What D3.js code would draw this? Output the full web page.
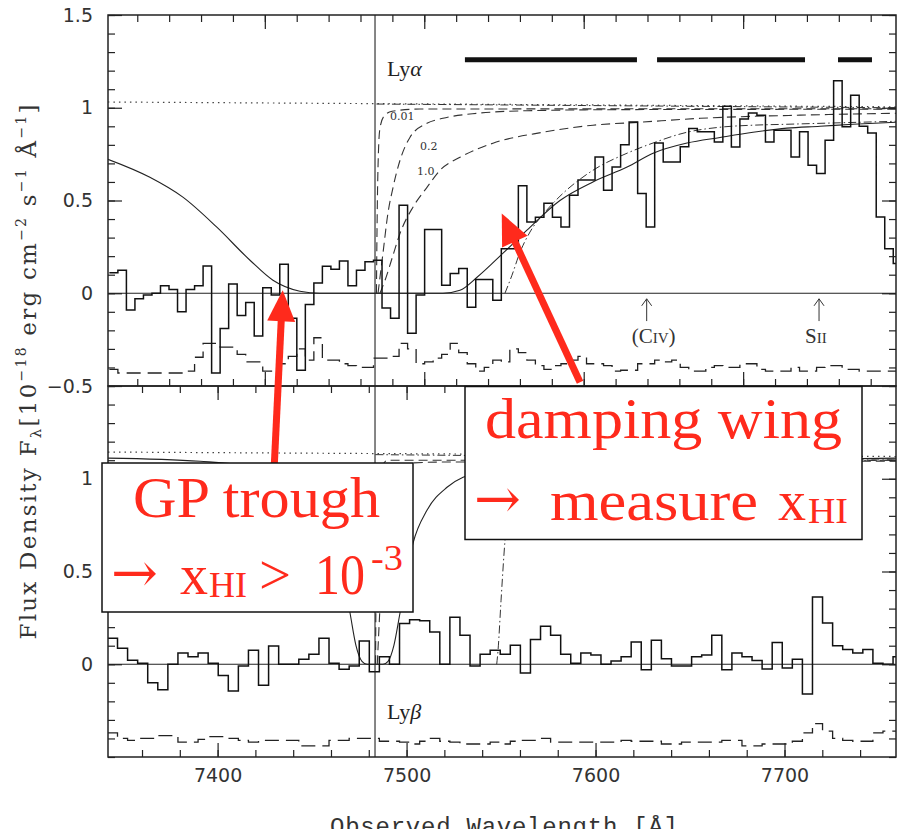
<!DOCTYPE html>
<html>
<head>
<meta charset="utf-8">
<script src="https://cdn.jsdelivr.net/npm/d3@7"></script>
<style>
body{margin:0;background:#fff}
svg{display:block}
.ax text{font-family:"DejaVu Sans",sans-serif;font-size:19px;fill:#333}
.ax path{display:none}
.ax line{stroke:#222;stroke-width:1.2}
</style>
</head>
<body>
<svg id="chart" width="897" height="829"></svg>
<script>
// Lya panel (top): binned spectrum, observed wavelength of Lya panel
var topStart = 8702.5, topStep = 5.344
var topFlux = [0.11, 0.124, -0.09, -0.03, -0.01, 0.0, 0.04, 0.02, -0.1, 0.02,
  0.04, 0.147, -0.43, -0.19, 0.05, -0.12, -0.05, -0.23, 0.03, -0.01,
  0.156, -0.135, -0.415, -0.06, 0.055, 0.145, 0.13, 0.174, 0.04, 0.124,
  0.17, 0.178, -0.08, -0.135, 0.474, -0.216, -0.01, 0.343, 0.343, 0.043,
  0.107, 0.134, -0.075, 0.074, 0.074, -0.038, 0.24, 0.24, 0.58, 0.384,
  0.41, 0.485, 0.41, 0.357, 0.528, 0.61, 0.61, 0.735, 0.555, 0.68,
  0.8, 0.923, 0.538, 0.357, 0.81, 0.708, 0.708, 0.79, 0.888, 0.87,
  0.87, 0.816, 1.008, 0.789, 0.94, 0.972, 0.96, 0.816, 0.879, 0.879,
  0.735, 0.87, 0.69, 0.645, 0.825, 1.145, 0.897, 1.067, 0.9, 0.864,
  0.411, 0.24, 0.16]
var topNoise = [-0.41, -0.43, -0.43, -0.43, -0.43, -0.43, -0.43, -0.43, -0.43, -0.42,
  -0.345, -0.27, -0.27, -0.29, -0.29, -0.33, -0.37, -0.37, -0.42, -0.42,
  -0.38, -0.34, -0.30, -0.36, -0.24, -0.36, -0.36, -0.38, -0.39, -0.40,
  -0.40, -0.35, -0.35, -0.34, -0.27, -0.30, -0.38, -0.37, -0.35, -0.33,
  -0.27, -0.32, -0.38, -0.42, -0.40, -0.36, -0.37, -0.30, -0.32, -0.36,
  -0.39, -0.41, -0.39, -0.38, -0.36, -0.34, -0.38, -0.38, -0.39, -0.42,
  -0.415, -0.415, -0.38, -0.38, -0.36, -0.37, -0.36, -0.40, -0.42, -0.42,
  -0.40, -0.39, -0.40, -0.40, -0.38, -0.38, -0.41, -0.42, -0.42, -0.42,
  -0.40, -0.42, -0.42, -0.40, -0.39, -0.39, -0.41, -0.41, -0.42, -0.42,
  -0.42, -0.42, -0.42]

// Lyb panel (bottom): binned spectrum, observed wavelength (bottom axis)
var botStart = 7341.7, botStep = 5.33
var botFlux = [0.14, 0.086, 0.022, 0.005, -0.1, -0.137, 0.0, 0.061, 0.04, 0.061,
  0.005, -0.06, -0.144, -0.01, 0.075, -0.113, 0.099, 0.0, 0.0, 0.027,
  0.054, 0.14, 0.005, -0.027, -0.01, 0.126, -0.04, 0.04, 0.0, 0.22,
  0.24, 0.234, 0.174, 0.0, 0.253, 0.156, -0.01, 0.054, 0.075, 0.054,
  0.102, -0.047, 0.133, 0.205, 0.156, 0.054, 0.005, 0.06, 0.05, 0.0,
  0.018, 0.04, 0.12, -0.03, 0.13, 0.03, -0.01, -0.01, 0.04, 0.05,
  0.156, -0.03, 0.06, 0.04, 0.02, -0.025, 0.117, -0.02, 0.027, -0.16,
  0.363, 0.223, 0.1, 0.08, 0.06, 0.08, 0.005, 0.0, 0.04]
var botNoise = [-0.37, -0.40, -0.41, -0.40, -0.40, -0.385, -0.385, -0.42, -0.42, -0.405,
  -0.39, -0.39, -0.40, -0.41, -0.42, -0.41, -0.41, -0.41, -0.41, -0.44,
  -0.44, -0.44, -0.41, -0.41, -0.40, -0.40, -0.40, -0.415, -0.415, -0.42,
  -0.43, -0.415, -0.40, -0.415, -0.42, -0.43, -0.43, -0.43, -0.42, -0.43,
  -0.415, -0.41, -0.41, -0.40, -0.42, -0.42, -0.42, -0.42, -0.42, -0.42,
  -0.42, -0.41, -0.415, -0.415, -0.415, -0.43, -0.43, -0.42, -0.42, -0.42,
  -0.42, -0.41, -0.41, -0.44, -0.44, -0.43, -0.43, -0.43, -0.415, -0.37,
  -0.32, -0.36, -0.40, -0.41, -0.415, -0.415, -0.37, -0.36, -0.36]

// model curves, [wavelength, flux]
var topDLA = [[8701.6, 0.722], [8727.9, 0.625], [8748.6, 0.518], [8769.9, 0.356], [8790.7, 0.178],
  [8805.1, 0.070], [8822.0, 0.011], [8834.6, 0.0], [8911.7, 0.0], [8922.4, 0.016], [8933.1, 0.086],
  [8949.4, 0.216], [8964.4, 0.34], [8985.1, 0.50], [9005.8, 0.60], [9027.2, 0.68], [9043.5, 0.755],
  [9064.8, 0.81], [9085.5, 0.84], [9106.2, 0.868], [9127.5, 0.89], [9148.2, 0.90], [9168.9, 0.911], [9195.9, 0.922]]
var topFit = [[8950.6, 0], [8955.0, 0.097], [8960.0, 0.22], [8966.3, 0.33], [8975.7, 0.437],
  [8985.1, 0.523], [9005.8, 0.663], [9027.2, 0.755], [9043.5, 0.81], [9064.8, 0.868], [9085.5, 0.895],
  [9106.2, 0.906], [9127.5, 0.911], [9148.2, 0.916], [9195.9, 0.927]]
var topCont = [[8701.6, 1.031], [9195.9, 1.005]]
var topContRed = [[8870.0, 1.02], [9195.9, 1.0]]
var topX001 = [[8870.0, 0], [8870.3, 0.286], [8870.7, 0.555], [8871.3, 0.771], [8872.2, 0.889],
  [8874.7, 0.954], [8879.8, 0.981], [8897.3, 0.993], [9195.9, 0.995]]
var topX02 = [[8871.0, 0], [8874.1, 0.216], [8877.2, 0.43], [8880.4, 0.57], [8884.8, 0.717],
  [8891.0, 0.84], [8901.7, 0.916], [8911.7, 0.943], [8933.1, 0.97], [8964.4, 0.984], [9027.2, 0.99], [9195.9, 0.992]]
var topX10 = [[8872.2, 0], [8875.4, 0.07], [8880.4, 0.205], [8884.8, 0.323], [8892.9, 0.464],
  [8901.7, 0.571], [8909.9, 0.663], [8922.4, 0.733], [8943.1, 0.809], [8974.5, 0.868], [9005.8, 0.906],
  [9035.3, 0.922], [9073.0, 0.943], [9135.7, 0.96], [9195.9, 0.97]]

var botDLA = [[7342.0, 1.111], [7390.7, 1.094], [7417.1, 1.067], [7436.7, 1.008], [7445.2, 0.954],
  [7455.8, 0.830], [7463.2, 0.652], [7470.1, 0.275], [7473.2, 0.102], [7476.4, 0.016], [7479.1, 0],
  [7487.5, 0], [7490.2, 0.016], [7493.3, 0.102], [7496.5, 0.275], [7503.4, 0.652], [7510.8, 0.830],
  [7521.4, 0.954], [7529.9, 1.008], [7549.4, 1.051], [7602.4, 1.084], [7681.7, 1.1], [7759.0, 1.111]]
var botFit = [[7547.7, 0], [7548.4, 0.075], [7550.0, 0.345], [7552.1, 0.668], [7554.7, 0.884],
  [7560.0, 1.019], [7581.2, 1.073], [7655.3, 1.089], [7759.0, 1.1]]
var botCont = [[7342, 1.144], [7759, 1.12]]
var botContRed = [[7483.5, 1.13], [7759, 1.105]]
var botX001 = [[7483.6, 0], [7484.0, 0.6], [7485.0, 1.0], [7490, 1.1], [7759, 1.1]]
var botX10 = [[7484.5, 0], [7487, 0.5], [7491, 0.85], [7497, 1.0], [7503, 1.085], [7520, 1.09], [7759, 1.095]]

// ranges of the thick bars, Lya panel wavelength
var bars = [[8925.5, 9033.4], [9046.0, 9138.8], [9159.5, 9180.8]]
var xhiLabels = [{t: '0.01', w: 8878.5, f: 0.933}, {t: '0.2', w: 8897.3, f: 0.771}, {t: '1.0', w: 8895.4, f: 0.636}]
var lines = [{t: 'C', t2: 'IV', w: 9039.5}, {t: 'S', t2: 'II', w: 9147.6}]

var lyaRest = 1215.67, lybRest = 1025.72
var lineB = 7483.3
var domB = [7342, 7759]
var ratio = lyaRest / lybRest

var svg = d3.select('#chart')
var L = 108, R = 896, T = 15, M = 386, B = 757

var xB = d3.scaleLinear().domain(domB).range([L, R])
var xT = d3.scaleLinear().domain(domB.map(d => d * ratio)).range([L, R])
var yT = d3.scaleLinear().domain([-0.5, 1.5]).range([M, T])
var yB = d3.scaleLinear().domain([-0.5, 1.5]).range([B, M])

function fmt(d){ return d < 0 ? '\u2212' + Math.abs(d) : String(d) }
function steps(start, step, vals){
  var pts = vals.map((v, i) => [start + i * step, v])
  pts.push([start + vals.length * step, vals[vals.length - 1]])
  return pts
}

var defs = svg.append('defs')
defs.append('clipPath').attr('id', 'clipT').append('rect').attr('x', L).attr('y', T).attr('width', R - L).attr('height', M - T)
defs.append('clipPath').attr('id', 'clipB').append('rect').attr('x', L).attr('y', M).attr('width', R - L).attr('height', B - M)

function panel(x, y, clip, d){
  var g = svg.append('g').attr('clip-path', 'url(#' + clip + ')')
  var step = d3.line().x(p => x(p[0])).y(p => y(p[1])).curve(d3.curveStepAfter)
  var smooth = d3.line().x(p => x(p[0])).y(p => y(p[1])).curve(d3.curveMonotoneX)
  var lin = d3.line().x(p => x(p[0])).y(p => y(p[1]))

  g.append('line').attr('x1', L).attr('x2', R).attr('y1', y(0)).attr('y2', y(0)).attr('stroke', '#222').attr('stroke-width', 1.1)
  g.append('path').attr('d', lin(d.cont)).attr('fill', 'none').attr('stroke', '#444').attr('stroke-width', 1.2).attr('stroke-dasharray', '1.5,4')
  g.append('path').attr('d', lin(d.contRed)).attr('fill', 'none').attr('stroke', '#333').attr('stroke-width', 1).attr('stroke-dasharray', '8,3,1.5,3')
  d.dashed.forEach(c => g.append('path').attr('d', smooth(c)).attr('fill', 'none').attr('stroke', '#333').attr('stroke-width', 1.1).attr('stroke-dasharray', '9,5'))
  g.append('path').attr('d', smooth(d.fit)).attr('fill', 'none').attr('stroke', '#333').attr('stroke-width', 1).attr('stroke-dasharray', '8,3,1.5,3')
  g.append('path').attr('d', smooth(d.dla)).attr('fill', 'none').attr('stroke', '#222').attr('stroke-width', 1.1)
  g.append('path').attr('d', step(d.noise)).attr('fill', 'none').attr('stroke', '#222').attr('stroke-width', 1.3).attr('stroke-dasharray', '14,7')
  g.append('path').attr('d', step(d.flux)).attr('fill', 'none').attr('stroke', '#111').attr('stroke-width', 1.5)
}

panel(xT, yT, 'clipT', {
  flux: steps(topStart, topStep, topFlux), noise: steps(topStart, topStep, topNoise),
  dla: topDLA, fit: topFit, cont: topCont, contRed: topContRed, dashed: [topX001, topX02, topX10]
})
panel(xB, yB, 'clipB', {
  flux: steps(botStart, botStep, botFlux), noise: steps(botStart, botStep, botNoise),
  dla: botDLA, fit: botFit, cont: botCont, contRed: botContRed, dashed: [botX001, botX10]
})

// thick bars in Lya panel
svg.append('g').selectAll('line').data(bars).join('line')
  .attr('x1', d => xT(d[0])).attr('x2', d => xT(d[1]))
  .attr('y1', yT(1.259)).attr('y2', yT(1.259))
  .attr('stroke', '#111').attr('stroke-width', 5)

// Lya / Lyb line
svg.append('line').attr('x1', xB(lineB)).attr('x2', xB(lineB)).attr('y1', T).attr('y2', B).attr('stroke', '#222').attr('stroke-width', 1.1)

// axes
function minorMajor(axisFn, scale, minors, majors, pos, isX, labels){
  var gm = svg.append('g').attr('class', 'ax').attr('transform', isX ? 'translate(0,' + pos + ')' : 'translate(' + pos + ',0)')
  gm.call(axisFn(scale).tickValues(minors).tickSize(-7).tickFormat(''))
  var gM = svg.append('g').attr('class', 'ax').attr('transform', isX ? 'translate(0,' + pos + ')' : 'translate(' + pos + ',0)')
  gM.call(axisFn(scale).tickValues(majors).tickSize(-14).tickPadding(isX ? 12 : 15).tickFormat(labels ? labels : ''))
  return gM
}
var yMinor = d3.range(-5, 16).map(d => d / 10)
var yMajor = [-0.5, 0, 0.5, 1, 1.5]
minorMajor(d3.axisLeft, yT, yMinor, yMajor, L, false, fmt)
minorMajor(d3.axisRight, yT, yMinor, yMajor, R, false, null)
minorMajor(d3.axisLeft, yB, yMinor, [0, 0.5, 1], L, false, fmt)
minorMajor(d3.axisRight, yB, yMinor, [0, 0.5, 1], R, false, null)
var tMinor = d3.range(8720, 9200, 20), tMajor = [8800, 8900, 9000, 9100]
minorMajor(d3.axisTop, xT, tMinor, tMajor, T, true, null)
minorMajor(d3.axisBottom, xT, tMinor, tMajor, M, true, null)
var bMinor = d3.range(7360, 7760, 20), bMajor = [7400, 7500, 7600, 7700]
minorMajor(d3.axisTop, xB, bMinor, bMajor, M, true, null)
minorMajor(d3.axisBottom, xB, bMinor, bMajor, B, true, d => d)

// frames
;[[T, M], [M, B]].forEach(r => svg.append('rect').attr('x', L).attr('y', r[0]).attr('width', R - L).attr('height', r[1] - r[0])
  .attr('fill', 'none').attr('stroke', '#222').attr('stroke-width', 1.5))

// panel texts
var serif = '"Liberation Serif","DejaVu Serif",serif'
var lya = svg.append('text').attr('x', xT(8876.6)).attr('y', yT(1.17)).attr('font-family', serif).attr('font-size', 22).attr('fill', '#222')
lya.append('tspan').text('Ly')
lya.append('tspan').attr('font-style', 'italic').text('\u03b1')
var lyb = svg.append('text').attr('x', xB(7489.6)).attr('y', yB(-0.296)).attr('font-family', serif).attr('font-size', 22).attr('fill', '#222')
lyb.append('tspan').text('Ly')
lyb.append('tspan').attr('font-style', 'italic').text('\u03b2')

svg.append('g').selectAll('text').data(xhiLabels).join('text')
  .attr('x', d => xT(d.w)).attr('y', d => yT(d.f))
  .attr('font-family', '"DejaVu Serif",serif').attr('font-size', 11).attr('fill', '#333').text(d => d.t)

// metal line markers
lines.forEach(function(d, i){
  var x = xT(d.w), y0 = yT(-0.03), y1 = yT(-0.15)
  svg.append('line').attr('x1', x).attr('x2', x).attr('y1', y0).attr('y2', y1).attr('stroke', '#333').attr('stroke-width', 1)
  svg.append('polyline').attr('points', [[x - 5, y0 + 7], [x, y0], [x + 5, y0 + 7]].join(' ')).attr('fill', 'none').attr('stroke', '#333').attr('stroke-width', 1)
  var t = svg.append('text').attr('y', yT(-0.27)).attr('font-family', serif).attr('font-size', 21).attr('fill', '#333')
  if (i == 0){
    t.attr('x', x - 15)
    t.append('tspan').text('(C')
    t.append('tspan').attr('font-size', 15).text('IV')
    t.append('tspan').text(')')
  } else {
    t.attr('x', x - 14)
    t.append('tspan').text('S')
    t.append('tspan').attr('font-size', 15).text('II')
  }
})

// axis titles
var yl = svg.append('text').attr('transform', 'translate(36,372) rotate(-90)').attr('text-anchor', 'middle')
  .attr('font-family', '"DejaVu Serif",serif').attr('font-size', 23).attr('fill', '#333')
  .attr('textLength', 535).attr('lengthAdjust', 'spacing')
yl.append('tspan').text('Flux Density F')
yl.append('tspan').attr('font-size', 15).attr('dy', 5).text('\u03bb')
yl.append('tspan').attr('dy', -5).text('[10')
yl.append('tspan').attr('font-size', 14).attr('dy', -10).text('\u221218')
yl.append('tspan').attr('dy', 10).text(' erg cm')
yl.append('tspan').attr('font-size', 14).attr('dy', -10).text('\u22122')
yl.append('tspan').attr('dy', 10).text(' s')
yl.append('tspan').attr('font-size', 14).attr('dy', -10).text('\u22121')
yl.append('tspan').attr('dy', 10).text(' \u00c5')
yl.append('tspan').attr('font-size', 14).attr('dy', -10).text('\u22121')
yl.append('tspan').attr('dy', 10).text(']')

svg.append('text').attr('x', 504).attr('y', 834).attr('text-anchor', 'middle')
  .attr('font-family', '"Liberation Mono",monospace').attr('font-size', 24).attr('fill', '#333')
  .attr('textLength', 348).attr('lengthAdjust', 'spacing').text('Observed Wavelength [\u00c5]')

// annotations
var red = '#ff2a1c'
function arrow(x1, y1, x2, y2){
  var dx = x2 - x1, dy = y2 - y1, n = Math.hypot(dx, dy), ux = dx / n, uy = dy / n
  var hl = 31, hw = 28
  var bx = x2 - ux * hl, by = y2 - uy * hl
  svg.append('line').attr('x1', x1).attr('y1', y1).attr('x2', bx + ux * 2).attr('y2', by + uy * 2)
    .attr('stroke', red).attr('stroke-width', 7)
  svg.append('polygon').attr('fill', red)
    .attr('points', [[x2, y2], [bx - uy * hw / 2, by + ux * hw / 2], [bx + uy * hw / 2, by - ux * hw / 2]].join(' '))
}
arrow(xT(8806.0), yT(-0.916), xT(8811.2), yT(0.016))
arrow(xT(8997.7), yT(-0.48), xT(8948.6), yT(0.43))

function box(x, y, w, h){
  svg.append('rect').attr('x', x).attr('y', y).attr('width', w).attr('height', h)
    .attr('fill', '#fff').attr('stroke', '#111').attr('stroke-width', 1.5)
}
box(102, 463, 311, 149)
box(465, 386.5, 397, 153)

function rt(x, y, size, s, len, font){
  var t = svg.append('text').attr('x', x).attr('y', y).attr('font-family', font || serif).attr('font-size', size).attr('fill', red).text(s)
  if (len) t.attr('textLength', len).attr('lengthAdjust', 'spacingAndGlyphs')
  return t
}
var arrowFont = '"DejaVu Serif",serif'
rt(133, 517, 56, 'GP trough', 247)
rt(111, 592, 56, '\u2192', null, arrowFont)
rt(180, 594, 56, 'x')
rt(209, 597, 36, 'HI', 38)
rt(259, 594, 56, '>', 32)
rt(315, 594, 56, '10', 50)
rt(371, 570, 36, '-3', 32)

rt(485, 438, 56, 'damping wing', 357)
rt(474, 518, 56, '\u2192', null, arrowFont)
rt(550, 520, 56, 'measure', 208)
rt(778, 520, 56, 'x')
rt(808, 523, 36, 'HI', 40)
</script>
</body>
</html>
